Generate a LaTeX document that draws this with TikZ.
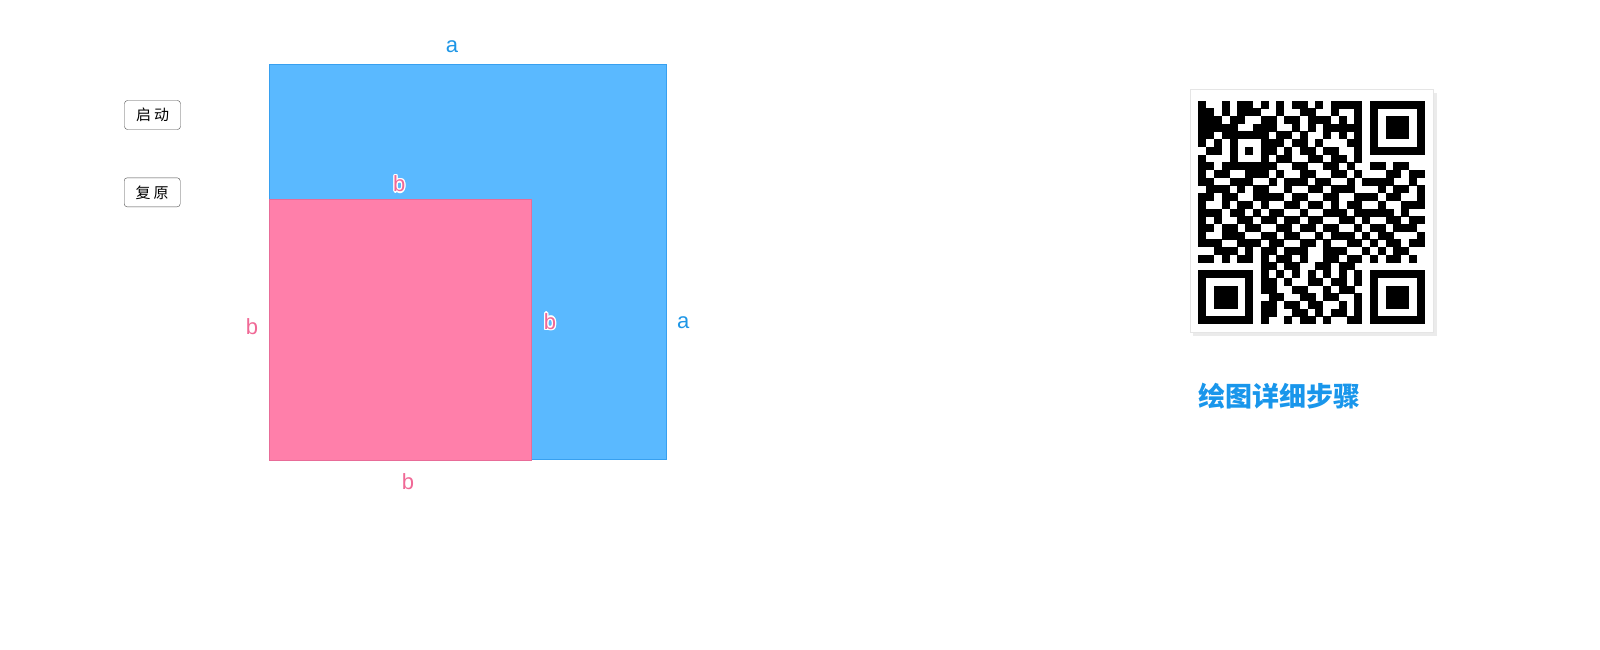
\documentclass[tikz,border=0pt]{standalone}
\usepackage{fontspec}
\setmainfont{Liberation Sans}
\newfontfamily\cjk{Noto Sans CJK SC}
\usepackage{tikz}
\usetikzlibrary{positioning,calc}
\definecolor{mysky}{RGB}{90,185,255}
\definecolor{myskyedge}{RGB}{55,160,240}
\definecolor{mypink}{RGB}{255,127,170}
\definecolor{mypinkedge}{RGB}{232,108,152}
\definecolor{myalabel}{RGB}{30,150,230}
\definecolor{myblabel}{RGB}{240,105,150}
\definecolor{mytitle}{RGB}{25,150,235}

\begin{document}
\begin{tikzpicture}[
  x=1pt,y=-1pt,
  mylabel/.style={
    inner sep=0pt,
    font=\fontsize{22}{22}\selectfont
    },
  mybutton/.style={
    draw=black!70,
    thin,
    fill=white,
    rounded corners=3pt,
    minimum width=56pt,
    minimum height=29pt,
    inner sep=0pt,
    font=\fontsize{15}{15}\selectfont\cjk
    }
]
\useasboundingbox (0,0) rectangle (1600,650);

% squares
\coordinate (bigtl) at (269.3,64);
\coordinate (bigbr) at (666,459.5);
\coordinate (smalltl) at (269.3,199);
\coordinate (smallbr) at (531.7,460.5);
\filldraw[fill=mysky, draw=myskyedge, thick] (bigtl) rectangle (bigbr);
\filldraw[fill=mypink, draw=mypinkedge, thick] (smalltl) rectangle (smallbr);

% side labels
\node[mylabel, text=myalabel] (atop) at (452,47) {a};
\node[mylabel, text=myalabel] (aright) at (683.3,322.3) {a};
\node[mylabel, text=myblabel] (bleft) at (252,327) {b};
\node[mylabel, text=myblabel] (bbottom) at (408,481.7) {b};
\foreach \dx/\dy in {1.3/0,-1.3/0,0/1.3,0/-1.3,0.9/0.9,-0.9/0.9,0.9/-0.9,-0.9/-0.9}
  {
  \node[mylabel, text=white] at (399.3+\dx,184+\dy) {b};
  \node[mylabel, text=white] at (550+\dx,321.3+\dy) {b};
  }
\node[mylabel, text=myblabel] (btop) at (399.3,184) {b};
\node[mylabel, text=myblabel] (binner) at (550,321.3) {b};

% buttons
\node[mybutton] (start) at (152.5,115) {启\hspace{3pt}动};
\node[mybutton] (reset) at (152.2,192.3) {复\hspace{3pt}原};

% code picture
\draw[black!8, line width=3pt] (1193,334) -- (1435,334) -- (1435,93);
\filldraw[fill=white, draw=black!10, line width=1pt] (1190,90) rectangle (1433,332);
\foreach \row [count=\r from 0] in {
  {1,0,0,1,0,1,1,0,1,0,1,0,1,1,0,1,0,1,1,1,1,0,1,1,1,1,1,1,1},
  {1,1,0,1,0,1,1,1,0,0,1,0,0,1,1,0,0,1,0,0,1,0,1,0,0,0,0,0,1},
  {1,1,1,0,1,1,0,0,1,1,0,1,1,0,1,1,1,0,1,0,1,0,1,0,1,1,1,0,1},
  {1,1,1,1,1,0,0,1,1,1,0,0,1,0,1,0,1,1,1,1,1,0,1,0,1,1,1,0,1},
  {1,1,0,1,1,1,1,1,1,0,1,1,0,1,0,0,1,0,1,0,1,0,1,0,1,1,1,0,1},
  {1,0,1,0,1,0,0,0,1,1,1,0,1,1,0,1,0,0,0,1,1,0,1,0,0,0,0,0,1},
  {0,1,1,0,1,0,1,0,1,1,0,1,0,1,1,0,1,1,0,0,1,0,1,1,1,1,1,1,1},
  {1,0,0,0,1,0,0,0,1,0,1,1,0,0,1,1,0,1,1,0,1,0,0,0,0,0,0,0,0},
  {1,1,0,1,1,1,1,1,1,1,0,0,1,1,0,0,1,1,0,1,0,0,1,1,0,1,1,0,0},
  {1,0,1,1,0,0,1,1,1,0,1,0,0,1,1,0,0,1,1,0,1,0,0,0,1,1,0,1,1},
  {1,1,0,0,1,1,1,0,0,1,0,1,1,1,0,1,1,0,0,1,0,1,1,1,1,0,0,1,0},
  {0,1,1,1,0,1,0,1,1,0,0,1,0,0,1,1,0,1,1,1,0,0,0,1,0,1,1,0,1},
  {1,1,0,1,1,0,0,1,1,1,1,0,1,1,0,0,1,1,0,0,1,1,1,0,1,1,0,0,1},
  {1,0,0,1,0,1,1,0,1,0,0,1,1,0,1,1,0,1,0,1,1,0,0,1,0,0,1,1,1},
  {1,1,1,0,1,1,0,1,0,1,1,0,0,1,0,0,1,1,1,0,1,1,1,1,1,0,1,0,0},
  {1,0,1,0,0,1,1,0,1,1,0,1,1,0,1,1,0,0,1,1,0,1,0,0,1,1,0,1,1},
  {1,1,0,1,1,0,1,1,0,0,1,1,0,1,1,0,1,1,0,0,1,0,1,1,0,1,1,1,0},
  {1,0,0,1,1,1,0,0,1,1,0,1,1,0,0,1,0,1,1,1,0,1,0,1,1,0,0,0,1},
  {1,1,1,0,0,1,1,1,0,1,1,0,0,1,1,0,1,0,0,1,1,0,1,0,1,1,0,1,1},
  {0,0,1,1,1,0,1,0,1,1,0,1,1,1,0,0,1,1,1,0,0,1,0,1,0,1,1,0,0},
  {1,1,0,1,0,1,1,0,1,0,1,1,0,1,0,0,1,1,0,1,1,0,1,0,1,1,0,1,0},
  {0,0,0,0,0,0,0,0,1,1,0,1,1,0,0,1,1,0,1,1,0,0,0,0,0,0,0,0,0},
  {1,1,1,1,1,1,1,0,1,0,1,0,1,0,1,0,1,0,1,0,1,0,1,1,1,1,1,1,1},
  {1,0,0,0,0,0,1,0,1,1,0,1,0,0,1,1,0,1,1,0,1,0,1,0,0,0,0,0,1},
  {1,0,1,1,1,0,1,0,1,1,0,0,1,1,0,0,1,0,1,1,0,0,1,0,1,1,1,0,1},
  {1,0,1,1,1,0,1,0,0,1,1,0,0,1,1,0,1,1,0,0,1,0,1,0,1,1,1,0,1},
  {1,0,1,1,1,0,1,0,1,1,0,1,1,0,1,1,0,0,1,0,1,0,1,0,1,1,1,0,1},
  {1,0,0,0,0,0,1,0,1,1,0,0,1,1,0,1,0,1,1,0,1,0,1,0,0,0,0,0,1},
  {1,1,1,1,1,1,1,0,1,0,0,1,0,1,1,0,1,0,0,1,1,0,1,1,1,1,1,1,1}}
  {
  \foreach \bit [count=\c from 0] in \row
    {
    \ifnum\bit=1
      \fill[black] (1198.3+7.8*\c,100.7+7.7*\r) rectangle ++(8.1,8.0);
    \fi
    }
  }

% caption
\node[inner sep=0pt, text=mytitle, font=\fontsize{27}{27}\selectfont\cjk\bfseries]
  (steps) at (1279,396) {绘图详细步骤};

\end{tikzpicture}
\end{document}
